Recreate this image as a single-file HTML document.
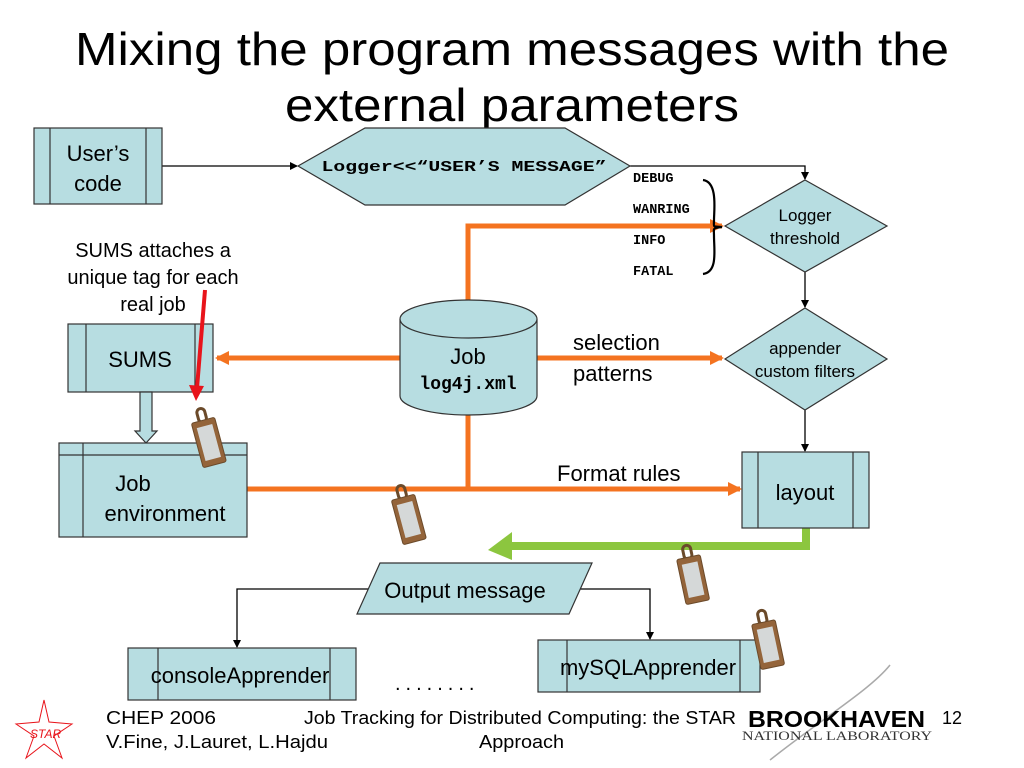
<!DOCTYPE html>
<html><head><meta charset="utf-8"><style>
html,body{margin:0;padding:0;background:#fff;}
svg{display:block;}
text{font-family:"Liberation Sans",sans-serif;fill:#000;}
.m{font-family:"Liberation Mono",monospace;font-weight:bold;}
</style></head><body>
<svg width="1024" height="768" viewBox="0 0 1024 768" xmlns="http://www.w3.org/2000/svg">
<defs>
<marker id="ab" markerWidth="8" markerHeight="8" refX="7" refY="4" orient="auto" markerUnits="userSpaceOnUse"><path d="M0,0 L8,4 L0,8 z" fill="#000"/></marker>
<marker id="ao" markerWidth="14" markerHeight="14" refX="12" refY="7" orient="auto" markerUnits="userSpaceOnUse"><path d="M0,0 L14,7 L0,14 z" fill="#f47320"/></marker>
<g id="tag">
<rect x="-4" y="-20" width="8" height="14" rx="4" fill="none" stroke="#6b4a2a" stroke-width="3"/>
<rect x="-12" y="-8" width="24" height="46" rx="2" fill="#94643a" stroke="#6b4a2a"/>
<rect x="-8" y="-2" width="16" height="34" fill="#d5d8d8"/>
</g>
</defs>
<text x="512" y="65" font-size="46" text-anchor="middle" textLength="874" lengthAdjust="spacingAndGlyphs">Mixing the program messages with the</text>
<text x="512" y="121" font-size="46" text-anchor="middle" textLength="454" lengthAdjust="spacingAndGlyphs">external parameters</text>

<g stroke="#000" stroke-width="1.3" fill="none">
<line x1="162" y1="166" x2="297" y2="166" marker-end="url(#ab)"/>
<polyline points="630,166 805,166 805,179" marker-end="url(#ab)"/>
<line x1="805" y1="272" x2="805" y2="307" marker-end="url(#ab)"/>
<line x1="805" y1="410" x2="805" y2="451" marker-end="url(#ab)"/>
<polyline points="380,589 237,589 237,647" marker-end="url(#ab)"/>
<polyline points="560,589 650,589 650,639" marker-end="url(#ab)"/>
</g>

<g stroke="#f47320" stroke-width="5" fill="none">
<polyline points="468,305 468,226 722,226" marker-end="url(#ao)"/>
<line x1="400" y1="358" x2="217" y2="358" marker-end="url(#ao)"/>
<line x1="537" y1="358" x2="722" y2="358" marker-end="url(#ao)"/>
<line x1="468" y1="412" x2="468" y2="489"/>
<line x1="247" y1="489" x2="740" y2="489" marker-end="url(#ao)"/>
</g>

<polyline points="806,528 806,546 508,546" fill="none" stroke="#8cc63f" stroke-width="8"/>
<path d="M488,550 L512,532 L512,560 z" fill="#8cc63f"/>

<g fill="#b7dde1" stroke="#333" stroke-width="1.2">
<rect x="34" y="128" width="128" height="76"/><line x1="50" y1="128" x2="50" y2="204"/><line x1="146" y1="128" x2="146" y2="204"/>
<polygon points="298,166 365,128 565,128 630,166 565,205 365,205"/>
<polygon points="805,180 887,226 805,272 725,226"/>
<polygon points="805,308 887,359 805,410 725,359"/>
<rect x="742" y="452" width="127" height="76"/><line x1="758" y1="452" x2="758" y2="528"/><line x1="853" y1="452" x2="853" y2="528"/>
<rect x="68" y="324" width="145" height="68"/><line x1="86" y1="324" x2="86" y2="392"/><line x1="195" y1="324" x2="195" y2="392"/>
<polygon points="140,392 152,392 152,431 157,431 146,443 135,431 140,431"/>
<rect x="59" y="443" width="188" height="94"/><line x1="83" y1="443" x2="83" y2="537"/><line x1="59" y1="455" x2="247" y2="455"/>
<path d="M400,319 L400,396 A68.5,19 0 0 0 537,396 L537,319"/>
<ellipse cx="468.5" cy="319" rx="68.5" ry="19"/>
<polygon points="380,563 592,563 569,614 357,614"/>
<rect x="128" y="648" width="228" height="52"/><line x1="158" y1="648" x2="158" y2="700"/><line x1="330" y1="648" x2="330" y2="700"/>
<rect x="538" y="640" width="222" height="52"/><line x1="567" y1="640" x2="567" y2="692"/><line x1="740" y1="640" x2="740" y2="692"/>
</g>

<path d="M703,180 C718,182 714,210 714,220 C714,228 712,226 722,227 C712,228 714,228 714,236 C714,250 718,272 703,274" fill="none" stroke="#000" stroke-width="2.2"/>

<g font-size="22" text-anchor="middle">
<text x="98" y="161">User’s</text><text x="98" y="191">code</text>
<text x="140" y="367">SUMS</text>
<text x="133" y="491">Job</text><text x="165" y="521">environment</text>
<text x="805" y="500">layout</text>
<text x="465" y="598">Output message</text>
<text x="240" y="683">consoleApprender</text>
<text x="648" y="675">mySQLApprender</text>
<text x="468" y="364">Job</text>
<text x="153" y="257" font-size="20">SUMS attaches a</text>
<text x="153" y="284" font-size="20">unique tag for each</text>
<text x="153" y="311" font-size="20">real job</text>
</g>
<text x="468" y="389" class="m" font-size="18" text-anchor="middle">log4j.xml</text>
<text x="464" y="171" class="m" font-size="15" text-anchor="middle" textLength="285" lengthAdjust="spacingAndGlyphs">Logger&lt;&lt;“USER’S MESSAGE”</text>
<g class="m" font-size="13.5">
<text x="633" y="182" class="m">DEBUG</text>
<text x="633" y="213" class="m">WANRING</text>
<text x="633" y="244" class="m">INFO</text>
<text x="633" y="275" class="m">FATAL</text>
</g>
<g font-size="17" text-anchor="middle">
<text x="805" y="221">Logger</text><text x="805" y="244">threshold</text>
<text x="805" y="354">appender</text><text x="805" y="377">custom filters</text>
</g>
<g font-size="22">
<text x="573" y="350">selection</text><text x="573" y="381">patterns</text>
<text x="557" y="481">Format rules</text>
</g>
<text x="395" y="690" font-size="20" letter-spacing="5">........</text>

<line x1="205" y1="290" x2="197" y2="388" stroke="#e8141b" stroke-width="4"/>
<path d="M189,385 L204,386 L196,401 z" fill="#e8141b"/>

<use href="#tag" transform="translate(205,428) rotate(-15)"/>
<use href="#tag" transform="translate(405,505) rotate(-15)"/>
<use href="#tag" transform="translate(690,565) rotate(-12)"/>
<use href="#tag" transform="translate(765,630) rotate(-12)"/>

<polygon points="44,700 49,722 72,724 54,736 62,758 44,744 26,758 34,736 16,724 39,722" fill="none" stroke="#e8141b" stroke-width="1"/>
<text x="30" y="738" font-size="12" style="fill:#e8141b;font-style:italic">STAR</text>
<g font-size="18">
<text x="106" y="724" textLength="110" lengthAdjust="spacingAndGlyphs">CHEP  2006</text>
<text x="106" y="748" textLength="222" lengthAdjust="spacingAndGlyphs">V.Fine, J.Lauret, L.Hajdu</text>
<text x="304" y="724" textLength="432" lengthAdjust="spacingAndGlyphs">Job Tracking for Distributed Computing: the STAR</text>
<text x="479" y="748" textLength="85" lengthAdjust="spacingAndGlyphs">Approach</text>
<text x="942" y="724">12</text>
</g>
<path d="M770,760 C820,720 870,690 890,665" fill="none" stroke="#aaa" stroke-width="1.5"/>
<text x="748" y="727" font-size="23" textLength="177" lengthAdjust="spacingAndGlyphs" style="font-family:'Liberation Sans';font-weight:bold">BROOKHAVEN</text>
<text x="742" y="740" font-size="13" textLength="190" lengthAdjust="spacingAndGlyphs" style="font-family:'Liberation Serif',serif;fill:#333">NATIONAL LABORATORY</text>
</svg>
</body></html>
